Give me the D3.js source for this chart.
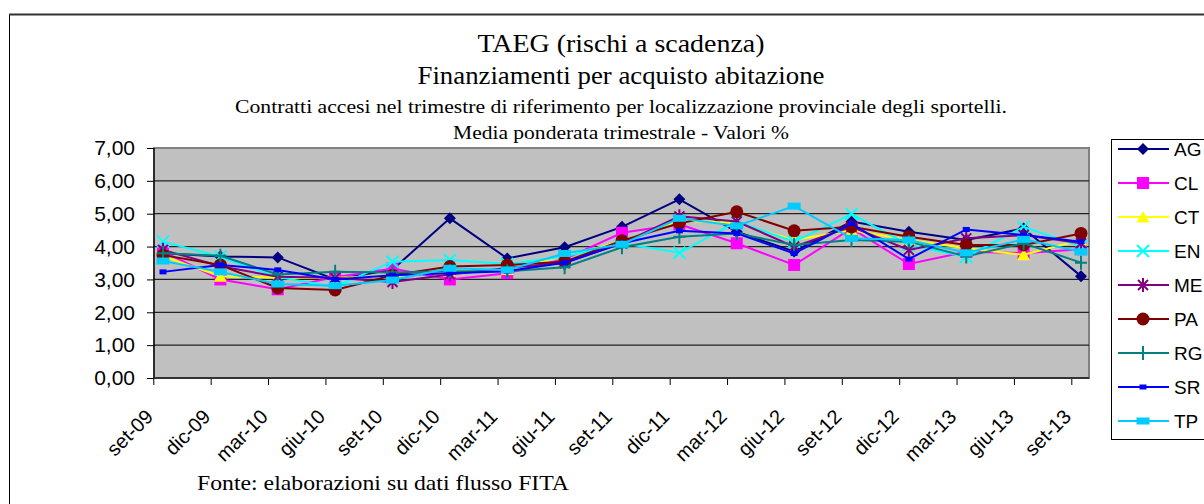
<!DOCTYPE html>
<html>
<head>
<meta charset="utf-8">
<script src="https://cdn.jsdelivr.net/npm/d3@7"></script>
<style>
  body { margin: 0; background: #fff; }
</style>
</head>
<body>
<div id="chart"></div>
<script>
// --- data ---
var categories = ["set-09", "dic-09", "mar-10", "giu-10", "set-10", "dic-10", "mar-11", "giu-11",
                  "set-11", "dic-11", "mar-12", "giu-12", "set-12", "dic-12", "mar-13", "giu-13", "set-13"];
var seriesNames = ["AG", "CL", "CT", "EN", "ME", "PA", "RG", "SR", "TP"];
var AG = [3.80, 3.70, 3.67, 3.00, 3.30, 4.86, 3.64, 3.98, 4.60, 5.44, 4.45, 3.85, 4.76, 4.45, 4.20, 4.55, 3.10];
var CL = [3.85, 3.00, 2.70, 3.07, 3.33, 3.00, 3.19, 3.62, 4.42, 4.68, 4.10, 3.44, 4.55, 3.47, 3.84, 3.80, 3.92];
var CT = [3.70, 3.10, 3.05, 3.05, 3.10, 3.25, 3.30, 3.72, 4.15, 4.79, 4.72, 4.20, 4.50, 4.20, 3.95, 3.75, 4.20];
var EN = [4.15, 3.69, 3.07, 2.78, 3.54, 3.59, 3.47, 3.70, 4.10, 3.81, 4.76, 4.15, 4.99, 4.05, 3.69, 4.60, 4.00];
var ME = [3.90, 3.40, 3.08, 3.05, 2.92, 3.15, 3.35, 3.50, 4.10, 4.92, 4.76, 4.00, 4.60, 3.90, 4.25, 4.35, 4.10];
var PA = [3.74, 3.44, 2.74, 2.68, 3.13, 3.39, 3.44, 3.54, 4.18, 4.71, 5.06, 4.48, 4.60, 4.30, 4.05, 4.05, 4.40];
var RG = [3.80, 3.72, 3.15, 3.23, 3.21, 3.25, 3.25, 3.37, 3.98, 4.30, 4.40, 4.05, 4.20, 4.15, 3.70, 4.10, 3.51];
var SR = [3.23, 3.44, 3.29, 3.00, 3.13, 3.19, 3.25, 3.51, 4.10, 4.48, 4.40, 3.79, 4.70, 3.62, 4.52, 4.35, 4.15];
var TP = [3.56, 3.23, 2.86, 2.81, 2.98, 3.34, 3.29, 3.79, 4.07, 4.86, 4.63, 5.23, 4.25, 4.20, 3.81, 4.22, 3.84];
var seriesValues = [AG, CL, CT, EN, ME, PA, RG, SR, TP];
var yTicks = [0, 1, 2, 3, 4, 5, 6, 7];

// --- styles ---
var colors = ["#000080", "#FF00FF", "#FFFF00", "#00FFFF", "#800080", "#800000", "#008080", "#0000FF", "#00CCFF"];
var markers = ["diamond", "square", "triangle", "x", "star", "circle", "plus", "smallsq", "rect"];

(function () {
    var W = 1204, H = 504;
    var pLeft = 154, pRight = 1089, pTop = 148, pBottom = 378;
    var sans = "'Liberation Sans', Arial, sans-serif";
    var serif = "'Liberation Serif', 'Times New Roman', serif";

    var svg = d3.select("#chart").append("svg")
        .attr("width", W).attr("height", H)
        .attr("viewBox", "0 0 " + W + " " + H);

    // outer chart frame
    svg.append("rect")
        .attr("x", 9.5).attr("y", 14.5).attr("width", 1220).attr("height", 520)
        .attr("fill", "#fff").attr("stroke", "#000").attr("stroke-width", 1);
    svg.append("line")
        .attr("x1", 9).attr("x2", W).attr("y1", 14.5).attr("y2", 14.5)
        .attr("stroke", "#333").attr("stroke-width", 2);

    // titles (widths pinned to the reference)
    var titles = [
        { t: "TAEG (rischi a scadenza)", y: 52, s: 26, w: 287 },
        { t: "Finanziamenti per acquisto abitazione", y: 84, s: 26, w: 407 },
        { t: "Contratti accesi nel trimestre di riferimento per localizzazione provinciale degli sportelli.", y: 113, s: 19, w: 772 },
        { t: "Media ponderata trimestrale - Valori %", y: 139, s: 19, w: 336 }
    ];
    titles.forEach(function (d) {
        svg.append("text")
            .attr("x", 621).attr("y", d.y)
            .attr("text-anchor", "middle")
            .attr("font-family", serif).attr("font-size", d.s + "px")
            .attr("textLength", d.w).attr("lengthAdjust", "spacingAndGlyphs")
            .attr("fill", "#000")
            .text(d.t);
    });

    var x = d3.scalePoint().domain(categories).range([163, 1081]);
    var y = d3.scaleLinear().domain([0, 7]).range([pBottom, pTop]);

    // plot area
    svg.append("rect")
        .attr("x", pLeft).attr("y", pTop)
        .attr("width", pRight - pLeft).attr("height", pBottom - pTop)
        .attr("fill", "#C0C0C0")
        .attr("stroke", "#808080").attr("stroke-width", 2);

    svg.append("g").selectAll("line")
        .data(yTicks.filter(function (v) { return v > 0 && v < 7; }))
        .enter().append("line")
        .attr("x1", pLeft).attr("x2", pRight)
        .attr("y1", function (v) { return y(v); }).attr("y2", function (v) { return y(v); })
        .attr("stroke", "#222").attr("stroke-width", 1.3);

    // y axis
    var fmt = d3.formatLocale({ decimal: ",", thousands: ".", grouping: [3], currency: ["", "€"] }).format(".2f");
    var yAxis = svg.append("g")
        .attr("transform", "translate(" + pLeft + ",0)")
        .call(d3.axisLeft(y).tickValues(yTicks).tickSize(7).tickPadding(12).tickFormat(fmt));
    yAxis.select(".domain").remove();
    yAxis.selectAll(".tick line").attr("stroke", "#000");
    yAxis.selectAll(".tick text")
        .attr("font-family", sans)
        .attr("font-size", "21px").attr("fill", "#000");
    svg.append("line")
        .attr("x1", pLeft).attr("x2", pLeft).attr("y1", pTop).attr("y2", pBottom)
        .attr("stroke", "#000").attr("stroke-width", 1.3);

    // x axis: ticks sit a little left of the points, as in the reference
    var tickShift = -9.7;
    var xAxis = svg.append("g")
        .attr("transform", "translate(" + tickShift + "," + pBottom + ")")
        .call(d3.axisBottom(x).tickSize(7).tickFormat(""));
    xAxis.select(".domain").remove();
    xAxis.selectAll(".tick line").attr("stroke", "#000");
    svg.append("line")
        .attr("x1", pLeft).attr("x2", pRight).attr("y1", pBottom).attr("y2", pBottom)
        .attr("stroke", "#333").attr("stroke-width", 2);

    svg.append("g").selectAll("text")
        .data(categories).enter().append("text")
        .attr("transform", function (d) {
            return "translate(" + (x(d) + tickShift + 1) + "," + (pBottom + 40) + ") rotate(-45)";
        })
        .attr("text-anchor", "end")
        .attr("font-family", sans)
        .attr("font-size", "20px").attr("fill", "#000")
        .text(function (d) { return d; });

    // marker drawing
    function drawMarker(g, type, color) {
        switch (type) {
        case "diamond":
            g.append("path").attr("d", "M0,-6L6,0L0,6L-6,0Z").attr("fill", color); break;
        case "square":
            g.append("rect").attr("x", -6).attr("y", -6).attr("width", 12).attr("height", 12).attr("fill", color); break;
        case "triangle":
            g.append("path").attr("d", "M0,-6L6.5,5.5L-6.5,5.5Z").attr("fill", color); break;
        case "x":
            g.append("path").attr("d", "M-6,-6L6,6M-6,6L6,-6").attr("stroke", color).attr("stroke-width", 2).attr("fill", "none"); break;
        case "star":
            g.append("path").attr("d", "M-5,-5L5,5M-5,5L5,-5M0,-7V7").attr("stroke", color).attr("stroke-width", 2).attr("fill", "none"); break;
        case "circle":
            g.append("circle").attr("r", 6.5).attr("fill", color); break;
        case "plus":
            g.append("path").attr("d", "M-6,0H6M0,-7V7").attr("stroke", color).attr("stroke-width", 2).attr("fill", "none"); break;
        case "smallsq":
            g.append("rect").attr("x", -3.5).attr("y", -2.5).attr("width", 7).attr("height", 5).attr("fill", color); break;
        case "rect":
            g.append("rect").attr("x", -6.5).attr("y", -3.5).attr("width", 13).attr("height", 7).attr("fill", color); break;
        }
    }

    var line = d3.line()
        .x(function (d, i) { return x(categories[i]); })
        .y(function (d) { return y(d); });

    seriesValues.forEach(function (vals, s) {
        var g = svg.append("g").attr("class", "series-" + seriesNames[s]);
        g.append("path")
            .attr("d", line(vals))
            .attr("fill", "none")
            .attr("stroke", colors[s]).attr("stroke-width", 2);
        vals.forEach(function (v, i) {
            var m = g.append("g").attr("transform", "translate(" + x(categories[i]) + "," + y(v) + ")");
            drawMarker(m, markers[s], colors[s]);
        });
    });

    // legend
    var lg = svg.append("g");
    lg.append("rect")
        .attr("x", 1111.5).attr("y", 139.5).attr("width", 120).attr("height", 300)
        .attr("fill", "#fff").attr("stroke", "#000").attr("stroke-width", 1);
    seriesNames.forEach(function (name, i) {
        var ly = 149 + i * 34;
        lg.append("line")
            .attr("x1", 1118).attr("x2", 1169).attr("y1", ly).attr("y2", ly)
            .attr("stroke", colors[i]).attr("stroke-width", 2);
        var m = lg.append("g").attr("transform", "translate(1143," + ly + ")");
        drawMarker(m, markers[i], colors[i]);
        lg.append("text")
            .attr("x", 1174).attr("y", ly + 7)
            .attr("font-family", sans)
            .attr("font-size", "19px").attr("fill", "#000")
            .text(name);
    });

    // source note
    svg.append("text")
        .attr("x", 197).attr("y", 490)
        .attr("font-family", serif).attr("font-size", "22px")
        .attr("textLength", 372).attr("lengthAdjust", "spacingAndGlyphs")
        .attr("fill", "#000")
        .text("Fonte: elaborazioni su dati flusso FITA");
})();
</script>
</body>
</html>
